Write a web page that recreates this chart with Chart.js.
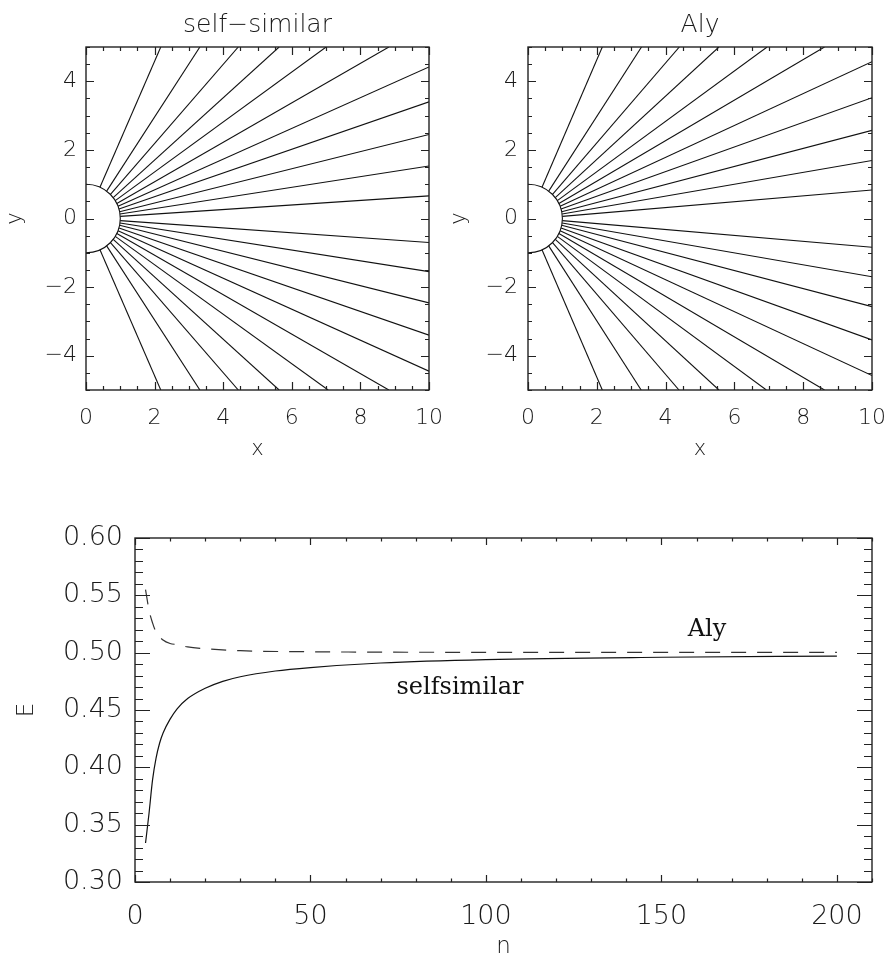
<!DOCTYPE html>
<html>
<head>
<meta charset="utf-8">
<script src="https://cdn.jsdelivr.net/npm/chart.js@4.4.1/dist/chart.umd.min.js"></script>
<style>
html,body{margin:0;padding:0;background:#fff;}
#wrap{position:relative;width:888px;height:960px;overflow:hidden;background:#fff;}
canvas{position:absolute;}
</style>
</head>
<body>
<div id="wrap">
<canvas id="c1" width="444" height="480" style="left:0;top:0;width:444px;height:480px"></canvas>
<canvas id="c2" width="444" height="480" style="left:444px;top:0;width:444px;height:480px"></canvas>
<canvas id="c3" width="888" height="480" style="left:0;top:480px;width:888px;height:480px"></canvas>
</div>
<script>
// ---------------- DATA ----------------
// Top panels: field lines start on the unit half-circle (footpoint angle, degrees)
// and end on the frame (top/bottom edge x, or right edge y).
const coreRadius = 1;
const footAngleDeg = [66, 53, 44.5, 37.5, 31.5, 26, 21, 16, 11.5, 7.5, 3.5];

const ssUpperTopX    = [2.18, 3.32, 4.44, 5.63, 7.00, 8.83];
const ssUpperRightY  = [4.42, 3.40, 2.45, 1.53, 0.66];
const ssLowerBottomX = [2.18, 3.32, 4.44, 5.63, 7.06, 8.83];
const ssLowerRightY  = [-4.45, -3.40, -2.46, -1.55, -0.70];

const alyUpperTopX    = [2.16, 3.30, 4.40, 5.55, 6.95, 8.62];
const alyUpperRightY  = [4.57, 3.52, 2.57, 1.69, 0.83];
const alyLowerBottomX = [2.16, 3.29, 4.39, 5.55, 6.93, 8.62];
const alyLowerRightY  = [-4.58, -3.54, -2.57, -1.70, -0.84];

const topXRange = [0, 10];
const topYRange = [-5, 5];
const topXTicks = [0, 2, 4, 6, 8, 10];
const topYTicks = [-4, -2, 0, 2, 4];

// Bottom panel: energy E versus n
const nSelf = [3, 4, 5, 6, 7, 8, 10, 12, 15, 20, 25, 30, 40, 50, 70, 100, 150, 200];
const eSelf = [0.334, 0.360, 0.389, 0.408, 0.421, 0.430, 0.442, 0.451, 0.460, 0.469, 0.475, 0.479, 0.484, 0.487, 0.491, 0.494, 0.496, 0.497];
const nAly  = [3, 4, 5, 6, 8, 10, 12, 15, 20, 30, 50, 100, 200];
const eAly  = [0.555, 0.537, 0.526, 0.518, 0.511, 0.508, 0.507, 0.505, 0.5035, 0.5017, 0.5008, 0.5003, 0.5002];

const botXRange = [0, 210];
const botYRange = [0.30, 0.60];
const botXTicks = [0, 50, 100, 150, 200];
const botYTicks = [0.30, 0.35, 0.40, 0.45, 0.50, 0.55, 0.60];

// ---------------- STYLE / HELPERS ----------------
const SANS = "'DejaVu Sans', 'Liberation Sans', sans-serif";
const SERIF = "'DejaVu Serif', 'Liberation Serif', serif";
const TXT = '#1a1a1a';

function fieldLines(topX, rightYUp, bottomX, rightYLow) {
  const sets = [];
  const ends = [];
  topX.forEach(v => ends.push({x: v, y: topYRange[1]}));
  rightYUp.forEach(v => ends.push({x: topXRange[1], y: v}));
  ends.forEach((e, i) => {
    const a = footAngleDeg[i] * Math.PI / 180;
    sets.push([{x: coreRadius * Math.cos(a), y: coreRadius * Math.sin(a)}, e]);
  });
  const endsL = [];
  bottomX.forEach(v => endsL.push({x: v, y: topYRange[0]}));
  rightYLow.forEach(v => endsL.push({x: topXRange[1], y: v}));
  endsL.forEach((e, i) => {
    const a = -footAngleDeg[i] * Math.PI / 180;
    sets.push([{x: coreRadius * Math.cos(a), y: coreRadius * Math.sin(a)}, e]);
  });
  return sets.map(d => ({
    data: d, borderColor: '#111', borderWidth: 1.1, pointRadius: 0, tension: 0, fill: false
  }));
}

const idlFrame = {
  id: 'idlFrame',
  afterDatasetsDraw(chart, args, o) {
    const {ctx, chartArea: a, scales: {x, y}} = chart;
    ctx.save();
    ctx.strokeStyle = '#222';
    ctx.lineWidth = 1.4;
    if (o.circle) {
      const cx = x.getPixelForValue(0), cy = y.getPixelForValue(0);
      const rx = x.getPixelForValue(coreRadius) - cx;
      const ry = cy - y.getPixelForValue(coreRadius);
      ctx.beginPath();
      ctx.lineWidth = 1.1;
      ctx.strokeStyle = '#111';
      ctx.ellipse(cx, cy, rx, ry, 0, -Math.PI / 2, Math.PI / 2);
      ctx.stroke();
      ctx.strokeStyle = '#222';
      ctx.lineWidth = 1.4;
    }
    ctx.strokeRect(a.left, a.top, a.right - a.left, a.bottom - a.top);
    ctx.lineWidth = 1.2;
    const draw = (scale, minor, major, majLen, minLen, horiz) => {
      const n = Math.round((scale.max - scale.min) / minor);
      for (let i = 0; i <= n; i++) {
        const v = scale.min + i * minor;
        const r = v / major;
        const isMaj = Math.abs(r - Math.round(r)) < 1e-6;
        const len = isMaj ? majLen : minLen;
        const p = Math.round(scale.getPixelForValue(v)) + 0.5;
        ctx.beginPath();
        if (horiz) {
          ctx.moveTo(p, a.bottom); ctx.lineTo(p, a.bottom - len);
          ctx.moveTo(p, a.top); ctx.lineTo(p, a.top + len);
        } else {
          ctx.moveTo(a.left, p); ctx.lineTo(a.left + len, p);
          ctx.moveTo(a.right, p); ctx.lineTo(a.right - len, p);
        }
        ctx.stroke();
      }
    };
    draw(x, o.xMinor, o.xMajor, o.xLen[0], o.xLen[1], true);
    draw(y, o.yMinor, o.yMajor, o.yLen[0], o.yLen[1], false);
    if (o.labels) {
      ctx.fillStyle = '#111';
      ctx.font = o.labelFont;
      ctx.textAlign = 'center';
      ctx.textBaseline = 'middle';
      o.labels.forEach(l => ctx.fillText(l.text, x.getPixelForValue(l.n), y.getPixelForValue(l.e)));
    }
    ctx.restore();
  }
};

function fixTicks(vals) {
  return (scale) => { scale.ticks = vals.map(v => ({value: v})); };
}
function fitW(w) { return (s) => { s.width = w; s.paddingTop = 0; s.paddingBottom = 0; }; }
function fitH(h) { return (s) => { s.height = h; s.paddingLeft = 0; s.paddingRight = 0; }; }
const negFmt = v => (v < 0 ? '\u2212' + Math.abs(v) : String(v));

function topChart(id, title, sets, yLabelPad, leftW, rightPad) {
  return new Chart(document.getElementById(id), {
    type: 'line',
    data: {datasets: sets},
    plugins: [idlFrame],
    options: {
      responsive: false, animation: false, devicePixelRatio: 1,
      layout: {padding: {left: 0, top: 0, right: rightPad, bottom: 0}},
      plugins: {
        legend: {display: false}, tooltip: {enabled: false},
        title: {display: true, text: title, fullSize: false, color: TXT,
          font: {family: SANS, size: 25, weight: 200, lineHeight: 1.2},
          padding: {top: 10, bottom: 7}},
        idlFrame: {circle: true, xMinor: 0.5, xMajor: 2, yMinor: 0.5, yMajor: 2,
          xLen: [8, 4], yLen: [8, 4]}
      },
      scales: {
        x: {type: 'linear', min: topXRange[0], max: topXRange[1],
          grid: {display: false, drawTicks: false}, border: {display: false},
          afterBuildTicks: fixTicks(topXTicks), afterFit: fitH(90),
          ticks: {color: TXT, padding: 15, autoSkip: false, maxRotation: 0, includeBounds: false,
            font: {family: SANS, size: 22, weight: 200, lineHeight: 1.2}, callback: negFmt},
          title: {display: true, text: 'x', color: TXT,
            font: {family: SANS, size: 21, weight: 200, lineHeight: 1.2}, padding: {top: 0, bottom: 18}}},
        y: {type: 'linear', min: topYRange[0], max: topYRange[1],
          grid: {display: false, drawTicks: false}, border: {display: false},
          afterBuildTicks: fixTicks(topYTicks), afterFit: fitW(leftW),
          ticks: {color: TXT, padding: yLabelPad, autoSkip: false, includeBounds: false,
            font: {family: SANS, size: 22, weight: 200, lineHeight: 1.2}, callback: negFmt},
          title: {display: true, text: 'y', color: TXT,
            font: {family: SANS, size: 21, weight: 200, lineHeight: 1.2}, padding: {top: 3, bottom: 0}}}
      }
    }
  });
}

topChart('c1', 'self\u2212similar', fieldLines(ssUpperTopX, ssUpperRightY, ssLowerBottomX, ssLowerRightY), 9, 86, 15);
topChart('c2', 'Aly', fieldLines(alyUpperTopX, alyUpperRightY, alyLowerBottomX, alyLowerRightY), 10, 84, 16);

new Chart(document.getElementById('c3'), {
  type: 'line',
  data: {datasets: [
    {data: nSelf.map((n, i) => ({x: n, y: eSelf[i]})), borderColor: '#111', borderWidth: 1.2,
     pointRadius: 0, cubicInterpolationMode: 'monotone', fill: false},
    {data: nAly.map((n, i) => ({x: n, y: eAly[i]})), borderColor: '#333', borderWidth: 1.2,
     borderDash: [15, 11], pointRadius: 0, cubicInterpolationMode: 'monotone', fill: false}
  ]},
  plugins: [idlFrame],
  options: {
    responsive: false, animation: false, devicePixelRatio: 1,
    layout: {padding: {left: 0, top: 58, right: 16, bottom: 0}},
    plugins: {
      legend: {display: false}, tooltip: {enabled: false}, title: {display: false},
      idlFrame: {circle: false, xMinor: 10, xMajor: 50, yMinor: 0.01, yMajor: 0.05,
        xLen: [7, 3.5], yLen: [15, 8],
        labelFont: '24px ' + SERIF,
        labels: [{text: 'Aly', n: 163, e: 0.5198}, {text: 'selfsimilar', n: 92.6, e: 0.469}]}
    },
    scales: {
      x: {type: 'linear', min: botXRange[0], max: botXRange[1],
        grid: {display: false, drawTicks: false}, border: {display: false},
        afterBuildTicks: fixTicks(botXTicks), afterFit: fitH(78),
        ticks: {color: TXT, padding: 19, autoSkip: false, maxRotation: 0, includeBounds: false,
          font: {family: SANS, size: 27, weight: 200, lineHeight: 1.2}},
        title: {display: true, text: 'n', color: TXT,
          font: {family: SANS, size: 23, weight: 200, lineHeight: 1.0}, padding: {top: 0, bottom: 1}}},
      y: {type: 'linear', min: botYRange[0], max: botYRange[1],
        grid: {display: false, drawTicks: false}, border: {display: false},
        afterBuildTicks: fixTicks(botYTicks), afterFit: fitW(135),
        ticks: {color: TXT, padding: 12, autoSkip: false, includeBounds: false,
          font: {family: SANS, size: 27, weight: 200, lineHeight: 1.2}, callback: v => v.toFixed(2)},
        title: {display: true, text: 'E', color: TXT,
          font: {family: SANS, size: 23, weight: 200, lineHeight: 1.2}, padding: {top: 13, bottom: 0}}}
    }
  }
});
</script>
</body>
</html>
